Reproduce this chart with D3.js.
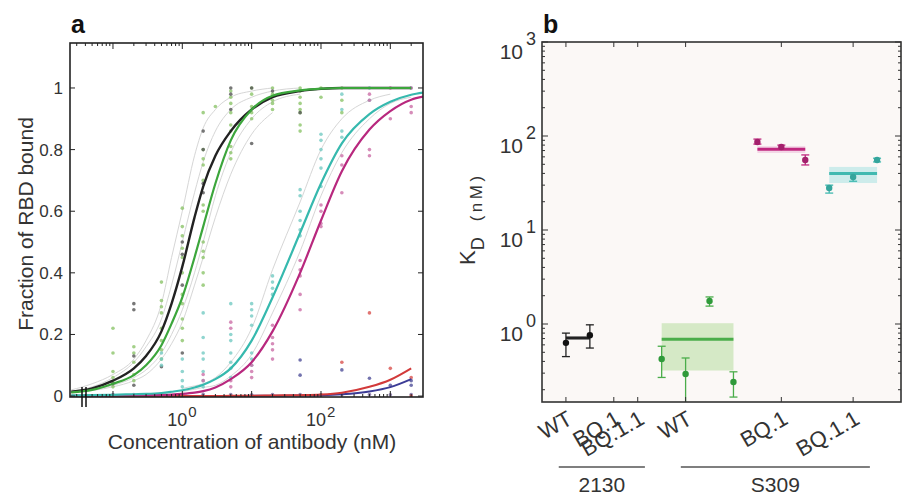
<!DOCTYPE html>
<html>
<head>
<meta charset="utf-8">
<script src="https://cdn.jsdelivr.net/npm/d3@7"></script>
<style>
body { margin: 0; background: #fff; }
text { font-family: "Liberation Sans", Arial, sans-serif; fill: #333; }
</style>
</head>
<body>
<svg width="907" height="497"></svg>
<script>
var svg = d3.select('svg');

// ---- panel a : binding curves ----
var conc = [0.025, 0.05, 0.1, 0.2, 0.3, 0.5, 0.7, 1, 1.5, 2, 3, 5, 10, 20, 50, 100, 200, 500, 1000, 2000, 3000];

var fitBlack   = [0.014, 0.025, 0.05, 0.09, 0.13, 0.21, 0.30, 0.42, 0.58, 0.68, 0.78, 0.86, 0.93, 0.97, 0.99, 0.997, 1, 1, 1, 1, null];
var fitGreen   = [0.012, 0.02, 0.04, 0.068, 0.10, 0.165, 0.235, 0.32, 0.45, 0.55, 0.69, 0.83, 0.93, 0.975, 0.992, 0.998, 1, 1, 1, 1, null];
var fitCyan    = [0.002, 0.003, 0.004, 0.006, 0.007, 0.01, 0.014, 0.019, 0.028, 0.037, 0.055, 0.09, 0.18, 0.32, 0.53, 0.69, 0.82, 0.915, 0.955, 0.978, 0.985];
var fitMagenta = [0.001, 0.001, 0.002, 0.003, 0.003, 0.004, 0.005, 0.007, 0.011, 0.016, 0.028, 0.055, 0.11, 0.21, 0.40, 0.57, 0.73, 0.865, 0.925, 0.962, 0.972];
var fitRed     = [0, 0, 0, 0, 0, 0, 0, 0, 0, 0, 0, 0.001, 0.001, 0.002, 0.003, 0.005, 0.011, 0.03, 0.053, 0.09, null];
var fitBlue    = [0, 0, 0, 0, 0, 0, 0, 0, 0, 0, 0, 0, 0.001, 0.001, 0.002, 0.003, 0.006, 0.015, 0.029, 0.055, null];

// single replicate fits (thin grey)
var repA = [0.016, 0.03, 0.06, 0.11, 0.16, 0.25, 0.36, 0.50, 0.66, 0.76, 0.86, 0.93, 0.97, 0.99, 1, null, null, null, null, null, null];
var repB = [0.02, 0.04, 0.07, 0.12, 0.18, 0.30, 0.45, 0.60, 0.78, 0.87, 0.93, 0.97, 0.99, 1, null, null, null, null, null, null, null];
var repC = [0.01, 0.018, 0.03, 0.05, 0.07, 0.12, 0.17, 0.24, 0.36, 0.45, 0.58, 0.72, 0.85, 0.92, null, null, null, null, null, null, null];
var repD = [0.012, 0.02, 0.035, 0.06, 0.085, 0.14, 0.20, 0.28, 0.40, 0.50, 0.65, 0.79, 0.90, 0.955, 0.98, null, null, null, null, null, null];
var repE = [null, null, null, null, null, null, null, 0.025, 0.033, 0.04, 0.06, 0.11, 0.22, 0.41, 0.63, 0.80, 0.90, 0.96, 0.98, null, null];
var repF = [null, null, null, null, null, null, null, 0.015, 0.022, 0.028, 0.035, 0.065, 0.135, 0.27, 0.47, 0.65, 0.79, 0.90, 0.95, 0.97, null];

var dotsGreen = [[0.1,0.22],[0.1,0.14],[0.1,0.08],[0.1,0.06],[0.1,0.045],[0.1,0.03],
  [0.2,0.16],[0.2,0.14],[0.2,0.11],[0.2,0.07],[0.2,0.05],
  [0.5,0.37],[0.5,0.31],[0.5,0.29],[0.5,0.27],[0.5,0.22],[0.5,0.18],[0.5,0.15],[0.5,0.12],
  [1,0.61],[1,0.55],[1,0.52],[1,0.48],[1,0.45],[1,0.40],[1,0.33],[1,0.30],[1,0.25],[1,0.22],[1,0.18],
  [2,0.92],[2,0.80],[2,0.77],[2,0.75],[2,0.70],[2,0.62],[2,0.60],[2,0.50],[2,0.47],[2,0.45],[2,0.40],[2,0.36],
  [3,0.94],[5,0.99],[5,0.97],[5,0.95],[5,0.92],[5,0.88],[5,0.86],[5,0.81],[5,0.79],[5,0.77],
  [10,1.0],[10,0.98],[10,0.94],[10,0.92],[10,0.90],
  [20,1.0],[20,0.98],[20,0.96],[20,0.95],[20,0.93],
  [50,1.0],[50,0.99],[50,0.97],[50,0.95],[50,0.93],[50,0.92],[50,0.88],[50,0.86],
  [100,1.0],[100,0.97],[200,1.0],[200,0.96],[200,0.92]];
var dotsDark = [[0.1,0.04],[0.2,0.30],[0.2,0.28],[0.2,0.13],[0.2,0.035],[0.5,0.095],
  [1,0.50],[1,0.46],[1,0.36],[1,0.14],[2,0.86],[2,0.80],[2,0.69],[2,0.66],
  [5,1.0],[5,0.98],[5,0.93],[10,1.0],[10,0.82],[20,0.99],[50,0.92]];
var dotsCyan = [[0.5,0.14],[0.5,0.12],[0.5,0.10],[1,0.12],[1,0.08],[1,0.05],[1,0.03],
  [2,0.27],[2,0.19],[2,0.14],[2,0.12],[2,0.08],[2,0.05],[2,0.03],
  [5,0.30],[5,0.20],[5,0.18],[5,0.14],[5,0.11],[5,0.09],[5,0.06],
  [10,0.30],[10,0.28],[10,0.26],[10,0.23],[10,0.14],[10,0.12],[10,0.10],
  [20,0.39],[20,0.37],[20,0.35],[20,0.33],
  [50,0.67],[50,0.65],[50,0.60],[50,0.57],[50,0.54],[50,0.52],
  [100,0.85],[100,0.83],[100,0.80],[100,0.77],[100,0.74],[100,0.68],
  [200,0.98],[200,0.93],[200,0.86],[200,0.84],[500,1.0],[500,0.96],[2000,1.0]];
var dotsMagenta = [[2,0.07],[2,0.05],[5,0.24],[5,0.22],[5,0.05],[5,0.03],[10,0.10],[10,0.08],[10,0.06],
  [20,0.23],[20,0.19],[20,0.17],[20,0.15],[20,0.12],
  [50,0.44],[50,0.41],[50,0.39],[50,0.33],[50,0.28],
  [100,0.62],[100,0.60],[100,0.56],[100,0.55],[200,0.78],[200,0.75],[200,0.66],
  [500,0.98],[500,0.96],[500,0.80],[500,0.78],[1000,1.0],[1000,0.90],[2000,1.0],[2000,0.94],[2000,0.92]];
var dotsRed = [[200,0.11],[500,0.27],[1000,0.09],[2000,0.06],[2000,0.0]];
var dotsBlue = [[50,0.117],[50,0.068],[200,0.085],[500,0.058],[1000,0.035],[2000,0.05],[2000,0.035]];
var dotsZero = [[0.1,0.005],[0.2,0.005],[0.5,0.004],[1,0.005],[2,0.006],[5,0.005],[10,0.004],
  [20,0.005],[50,0.005],[100,0.004],[200,0.005],[500,0.005],[1000,0.004],[2000,0.005]];

var yTicksA = [0, 0.2, 0.4, 0.6, 0.8, 1];
var yTickLabelsA = ['0', '0.2', '0.4', '0.6', '0.8', '1'];
var xLabelTicksA = [1, 100];
var xLabelExpA = ['0', '2'];

// ---- panel b : KD ----
var tickPos = [1, 3, 4, 6, 10, 13];
var tickLabels = ['WT', 'BQ.1', 'BQ.1.1', 'WT', 'BQ.1', 'BQ.1.1'];
var groupNames = ['2130', 'S309'];
var groupSpan = [[0.7, 4.3], [5.8, 13.7]];

var kdBlackX = [1, 2], kdBlack = [0.63, 0.76], kdBlackLo = [0.45, 0.555], kdBlackHi = [0.80, 0.98];
var kdGreenX = [5, 6, 7, 8], kdGreen = [0.424, 0.294, 1.76, 0.242], kdGreenLo = [0.27, 0.12, 1.55, 0.167], kdGreenHi = [0.58, 0.435, 1.94, 0.31];
var kdMagX = [9, 10, 11], kdMag = [86.4, 76.4, 55.6], kdMagLo = [82, 73, 49.2], kdMagHi = [92.7, 80, 62.9];
var kdCyanX = [12, 13, 14], kdCyan = [28, 36.6, 55.6], kdCyanLo = [24.7, 33, 53], kdCyanHi = [30, 40, 58];
// mean and band of each group
var meanBlack = [0.71, 0.68, 0.74];
var meanGreen = [0.69, 0.32, 1.02];
var meanMag = [72.5, 66, 78];
var meanCyan = [40, 31.6, 46.9];
var yTicksB = [1, 10, 100, 1000];
var yExpB = ['0', '1', '2', '3'];

// ================= panel a =================
var xa = d3.scaleLog().domain([0.024, 2960]).range([70, 423]);
var ya = d3.scaleLinear().domain([-0.003, 1.146]).range([397, 43]);

svg.append('clipPath').attr('id', 'clipA').append('rect')
  .attr('x', 70).attr('y', 43).attr('width', 353).attr('height', 354);
var gA = svg.append('g').attr('clip-path', 'url(#clipA)');

var line = d3.line()
  .defined(function (d) { return d[1] != null; })
  .x(function (d) { return xa(d[0]); })
  .y(function (d) { return ya(d[1]); })
  .curve(d3.curveMonotoneX);

function fit(vals, color, w) {
  var pts = conc.map(function (c, i) { return [c, vals[i]]; });
  gA.append('path').attr('d', line(pts)).attr('fill', 'none')
    .attr('stroke', color).attr('stroke-width', w);
}
function dots(list, color) {
  gA.selectAll(null).data(list).enter().append('circle')
    .attr('cx', function (d) { return xa(d[0]); })
    .attr('cy', function (d) { return ya(d[1]); })
    .attr('r', 1.8).attr('fill', color).attr('opacity', 0.8);
}

[repA, repB, repC, repD, repE, repF].forEach(function (r) { fit(r, '#d6d6d6', 1); });

dots(dotsZero, '#7d6aa0');
dots(dotsGreen, '#8cc46a');
dots(dotsDark, '#555555');
dots(dotsCyan, '#74cbc3');
dots(dotsMagenta, '#cc6fa8');
dots(dotsRed, '#d9534f');
dots(dotsBlue, '#50509a');

fit(fitBlue, '#3c3c96', 2);
fit(fitRed, '#d23a3a', 2);
fit(fitMagenta, '#b8287e', 2.2);
fit(fitCyan, '#36b9ae', 2.2);
fit(fitBlack, '#222222', 2.4);
fit(fitGreen, '#3ca63c', 2.2);

// frame & ticks
svg.append('rect').attr('x', 70).attr('y', 43).attr('width', 353).attr('height', 354)
  .attr('fill', 'none').attr('stroke', '#222').attr('stroke-width', 1.6);

xa.ticks().forEach(function (t) {
  var major = Math.abs(Math.log10(t) - Math.round(Math.log10(t))) < 1e-6;
  var len = major ? 6 : 3;
  var x = xa(t);
  svg.append('line').attr('x1', x).attr('x2', x).attr('y1', 397).attr('y2', 397 - len).attr('stroke', '#222');
  svg.append('line').attr('x1', x).attr('x2', x).attr('y1', 43).attr('y2', 43 + len).attr('stroke', '#222');
});
yTicksA.forEach(function (t, i) {
  var y = ya(t);
  svg.append('line').attr('x1', 70).attr('x2', 75).attr('y1', y).attr('y2', y).attr('stroke', '#222');
  svg.append('line').attr('x1', 423).attr('x2', 418).attr('y1', y).attr('y2', y).attr('stroke', '#222');
  svg.append('text').attr('x', 63).attr('y', y + 6).attr('text-anchor', 'end')
    .attr('font-size', 17).text(yTickLabelsA[i]);
});
xLabelTicksA.forEach(function (t, i) {
  var x = xa(t);
  svg.append('text').attr('x', x + 5).attr('y', 426).attr('text-anchor', 'end').attr('font-size', 18).text('10');
  svg.append('text').attr('x', x + 6).attr('y', 417).attr('font-size', 15).text(xLabelExpA[i]);
});

// axis break mark
svg.append('line').attr('x1', 82).attr('x2', 82).attr('y1', 387).attr('y2', 407).attr('stroke', '#111').attr('stroke-width', 1.5);
svg.append('line').attr('x1', 86).attr('x2', 86).attr('y1', 387).attr('y2', 407).attr('stroke', '#111').attr('stroke-width', 1.5);

svg.append('text').attr('x', 252).attr('y', 449).attr('text-anchor', 'middle').attr('font-size', 21)
  .text('Concentration of antibody (nM)');
svg.append('text').attr('transform', 'translate(33,224) rotate(-90)').attr('text-anchor', 'middle')
  .attr('font-size', 21).text('Fraction of RBD bound');
svg.append('text').attr('x', 71).attr('y', 33).attr('font-size', 25).attr('font-weight', 'bold')
  .style('fill', '#111').text('a');

// ================= panel b =================
var xb = d3.scaleLinear().domain([0, 15]).range([542, 901]);
var yb = d3.scaleLog().domain([0.148, 1000]).range([402, 42]);

svg.append('rect').attr('x', 542).attr('y', 42).attr('width', 359).attr('height', 360).attr('fill', '#fbf8f6');
svg.append('clipPath').attr('id', 'clipB').append('rect')
  .attr('x', 542).attr('y', 42).attr('width', 359).attr('height', 360);
var gB = svg.append('g').attr('clip-path', 'url(#clipB)');

function group(xs, vals, lo, hi, mean, col, band, ptCol) {
  var x0 = xb(xs[0]), x1 = xb(xs[xs.length - 1]);
  gB.append('rect').attr('x', x0).attr('width', x1 - x0)
    .attr('y', yb(mean[2])).attr('height', yb(mean[1]) - yb(mean[2])).attr('fill', band);
  gB.append('line').attr('x1', x0).attr('x2', x1).attr('y1', yb(mean[0])).attr('y2', yb(mean[0]))
    .attr('stroke', col).attr('stroke-width', 3);
  xs.forEach(function (x, i) {
    var px = xb(x);
    gB.append('line').attr('x1', px).attr('x2', px).attr('y1', yb(lo[i])).attr('y2', yb(hi[i])).attr('stroke', col).attr('stroke-width', 1.3);
    [lo[i], hi[i]].forEach(function (v) {
      gB.append('line').attr('x1', px - 4).attr('x2', px + 4).attr('y1', yb(v)).attr('y2', yb(v)).attr('stroke', col).attr('stroke-width', 1.3);
    });
    gB.append('circle').attr('cx', px).attr('cy', yb(vals[i])).attr('r', 3.2).attr('fill', ptCol);
  });
}
group(kdGreenX, kdGreen, kdGreenLo, kdGreenHi, meanGreen, '#4aad4a', '#d5e9c6', '#2f9a3a');
group(kdMagX, kdMag, kdMagLo, kdMagHi, meanMag, '#c0287f', '#f3d6e6', '#a3206c');
group(kdCyanX, kdCyan, kdCyanLo, kdCyanHi, meanCyan, '#40b9b0', '#cdeceb', '#35a59c');
group(kdBlackX, kdBlack, kdBlackLo, kdBlackHi, meanBlack, '#222', '#dddddd', '#111');

svg.append('rect').attr('x', 542).attr('y', 42).attr('width', 359).attr('height', 360)
  .attr('fill', 'none').attr('stroke', '#333').attr('stroke-width', 1.6);

yb.ticks().forEach(function (t) {
  var major = Math.abs(Math.log10(t) - Math.round(Math.log10(t))) < 1e-6;
  var len = major ? 6 : 3;
  var y = yb(t);
  svg.append('line').attr('x1', 542).attr('x2', 542 + len).attr('y1', y).attr('y2', y).attr('stroke', '#333');
  svg.append('line').attr('x1', 901).attr('x2', 901 - len).attr('y1', y).attr('y2', y).attr('stroke', '#333');
});
yTicksB.forEach(function (t, i) {
  var y = yb(t);
  svg.append('text').attr('x', 523).attr('y', y + 17).attr('text-anchor', 'end').attr('font-size', 21).text('10');
  svg.append('text').attr('x', 526).attr('y', y + 3).attr('font-size', 18).text(yExpB[i]);
});
tickPos.forEach(function (p, i) {
  var x = xb(p);
  svg.append('line').attr('x1', x).attr('x2', x).attr('y1', 402).attr('y2', 397).attr('stroke', '#333');
  svg.append('line').attr('x1', x).attr('x2', x).attr('y1', 42).attr('y2', 47).attr('stroke', '#333');
  svg.append('text').attr('transform', 'translate(' + (x + 8) + ',423) rotate(-30)')
    .attr('text-anchor', 'end').attr('font-size', 22).text(tickLabels[i]);
});
groupNames.forEach(function (g, i) {
  var a = xb(groupSpan[i][0]), b = xb(groupSpan[i][1]);
  svg.append('line').attr('x1', a).attr('x2', b).attr('y1', 467).attr('y2', 467).attr('stroke', '#555').attr('stroke-width', 1.5);
  svg.append('text').attr('x', (a + b) / 2).attr('y', 492).attr('text-anchor', 'middle').attr('font-size', 21).text(g);
});

var kl = svg.append('text').attr('transform', 'translate(475,265) rotate(-90)').attr('font-size', 22);
kl.append('tspan').text('K');
kl.append('tspan').attr('dy', 9).attr('font-size', 18).text('D');
kl.append('tspan').attr('dy', -2).attr('dx', 16).attr('font-size', 17).attr('letter-spacing', 3.5).text('(nM)');

svg.append('text').attr('x', 543).attr('y', 33).attr('font-size', 25).attr('font-weight', 'bold')
  .style('fill', '#111').text('b');
</script>
</body>
</html>
